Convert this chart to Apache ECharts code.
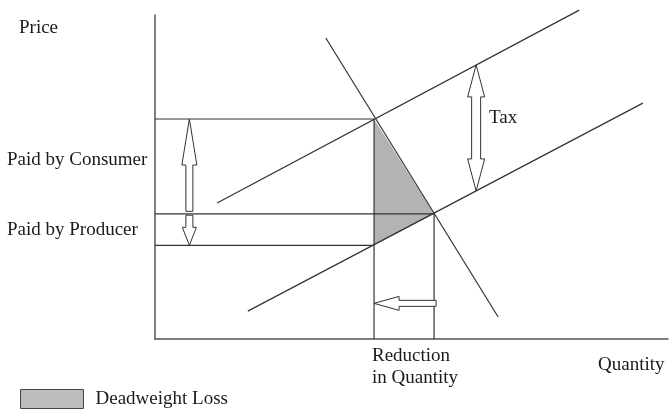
<!DOCTYPE html>
<html>
<head>
<meta charset="utf-8">
<script src="https://cdn.jsdelivr.net/npm/echarts@6/dist/echarts.min.js"></script>
<style>html,body{margin:0;padding:0;background:#fff}#c{width:669px;height:409px}</style>
</head>
<body>
<div id="c"></div>
<script>
// ---- data (arbitrary units, axes 0..100) ----
const demand = [[33.3, 92.9], [66.9, 6.8]];
const supply = [[18.1, 8.6], [95.1, 72.8]];
const supplyTax = [[12.1, 42.0], [82.7, 101.5]];
const qTax = 42.7;          // quantity after tax
const qEq = 54.4;           // equilibrium quantity
const priceConsumer = 67.9; // price paid by consumer
const priceEq = 38.6;       // original equilibrium price
const priceProducer = 28.9; // price received by producer
const taxArrow = {from: [62.6, 45.7], to: [62.6, 84.6]};
const consumerArrow = {from: [6.7, 39.4], to: [6.7, priceConsumer]};
const producerArrow = {from: [6.7, 38.2], to: [6.7, priceProducer]};
const reductionArrow = {from: [54.8, 11.0], to: [qTax, 11.0]};
const deadweight = [[qTax, priceConsumer], [qEq, priceEq], [qTax, priceProducer]];
const guides = [
  [[0, priceConsumer], [qTax, priceConsumer]],
  [[0, priceEq], [qEq, priceEq]],
  [[0, priceProducer], [qTax, priceProducer]],
  [[qTax, 0], [qTax, priceConsumer]],
  [[qEq, 0], [qEq, priceEq]]
];

// ---- styles ----
const FONT = '"Liberation Serif", "DejaVu Serif", serif';
const LINE = '#333333';
const arrowStyles = [
  {arrow: taxArrow, both: true, hl: 32, hw: 8.5, sw: 4.5},
  {arrow: consumerArrow, both: false, hl: 46, hw: 7.5, sw: 3.5},
  {arrow: producerArrow, both: false, hl: 18, hw: 7, sw: 3.5},
  {arrow: reductionArrow, both: false, hl: 25, hw: 7, sw: 3}
];

function lineSeries(data) {
  return {type: 'line', data: data, symbol: 'none', clip: false, silent: true,
    lineStyle: {color: LINE, width: 1.2}, z: 3};
}

function arrowPoints(api, s) {
  const a = api.coord(s.arrow.from), b = api.coord(s.arrow.to);
  const dx = b[0] - a[0], dy = b[1] - a[1];
  const L = Math.hypot(dx, dy);
  const d = [dx / L, dy / L], n = [-d[1], d[0]];
  const P = (p, t, k) => [p[0] + d[0] * t + n[0] * k, p[1] + d[1] * t + n[1] * k];
  if (s.both) {
    return [a, P(a, s.hl, s.hw), P(a, s.hl, s.sw), P(b, -s.hl, s.sw), P(b, -s.hl, s.hw), b,
      P(b, -s.hl, -s.hw), P(b, -s.hl, -s.sw), P(a, s.hl, -s.sw), P(a, s.hl, -s.hw)];
  }
  return [P(a, 0, s.sw), P(b, -s.hl, s.sw), P(b, -s.hl, s.hw), b,
    P(b, -s.hl, -s.hw), P(b, -s.hl, -s.sw), P(a, 0, -s.sw)];
}

const chart = echarts.init(document.getElementById('c'), null, {renderer: 'canvas'});
const series = [];
series.push({
  name: 'Deadweight Loss', type: 'custom', data: [0], silent: true, z: 1,
  itemStyle: {color: '#b3b3b3'},
  renderItem: function (params, api) {
    return {type: 'polygon', shape: {points: deadweight.map(p => api.coord(p))},
      style: {fill: '#b3b3b3', stroke: null}};
  }
});
guides.forEach(g => series.push(lineSeries(g)));
series.push(lineSeries(demand));
series.push(lineSeries(supply));
series.push(lineSeries(supplyTax));
series.push({
  type: 'custom', data: arrowStyles.map((s, i) => i), silent: true, z: 5,
  renderItem: function (params, api) {
    const s = arrowStyles[params.dataIndex];
    return {type: 'polygon', shape: {points: arrowPoints(api, s)},
      style: {fill: '#fff', stroke: '#333', lineWidth: 1}};
  }
});

const txt = (t, x, y) => ({type: 'text', x: x, y: y,
  style: {text: t, font: '19px ' + FONT, fill: '#1a1a1a', textVerticalAlign: 'middle'}});

chart.setOption({
  animation: false,
  backgroundColor: '#fff',
  grid: {left: 155, right: 1, top: 15, bottom: 70},
  xAxis: {type: 'value', min: 0, max: 100, axisLabel: {show: false}, axisTick: {show: false},
    splitLine: {show: false}, axisLine: {lineStyle: {color: '#555', width: 1.5}}},
  yAxis: {type: 'value', min: 0, max: 100, axisLabel: {show: false}, axisTick: {show: false},
    splitLine: {show: false}, axisLine: {lineStyle: {color: '#555', width: 1.5}}},
  legend: {left: 20, top: 389, padding: 0, itemWidth: 63, itemHeight: 19,
    data: [{name: 'Deadweight Loss', icon: 'rect',
      itemStyle: {color: '#bdbdbd', borderColor: '#444', borderWidth: 1}}],
    textStyle: {fontFamily: FONT, fontSize: 19, color: '#1a1a1a', padding: [0, 0, 0, 7]}},
  graphic: [
    txt('Price', 19, 28),
    txt('Paid by Consumer', 7, 160),
    txt('Paid by Producer', 7, 230),
    txt('Tax', 489, 118),
    txt('Reduction', 372, 356),
    txt('in Quantity', 372, 378),
    txt('Quantity', 598, 365)
  ],
  series: series
});
</script>
</body>
</html>
